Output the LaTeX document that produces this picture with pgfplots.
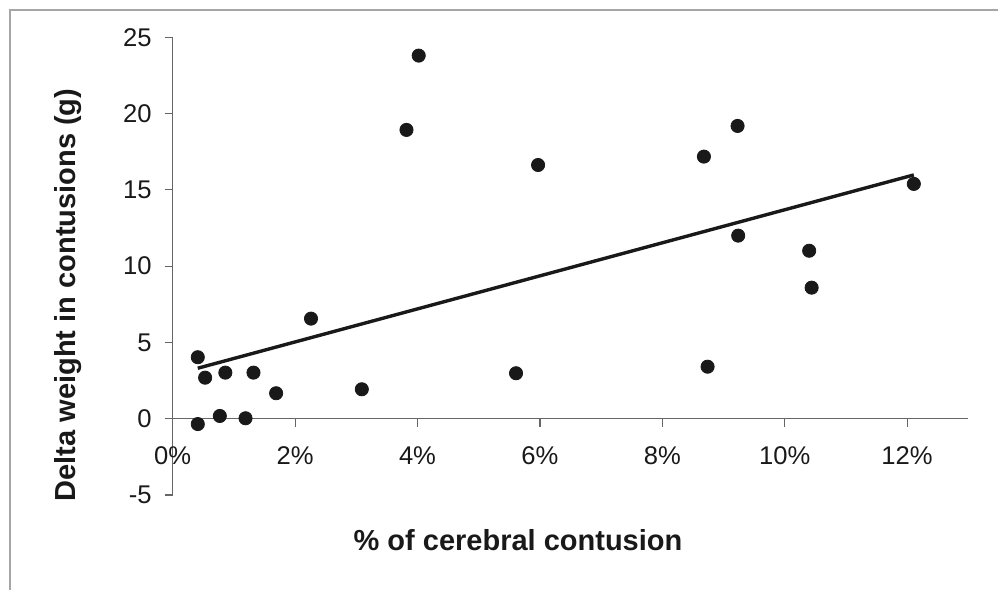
\documentclass[border=0pt]{standalone}
\usepackage{pgfplots}
\pgfplotsset{compat=1.18}
\usepackage{fontspec}
\setmainfont{Liberation Sans}
\begin{document}
\begin{tikzpicture}
\useasboundingbox (0,0) rectangle (499pt,295pt);
\draw[black!35, line width=0.6pt] (5pt,0pt) -- (5pt,290pt) -- (499pt,290pt);
\begin{axis}[
  at={(86.35pt,47.5pt)}, anchor=south west,
  scale only axis, width=397.8pt, height=228.85pt,
  xmin=0, xmax=13, ymin=-5, ymax=25,
  axis x line*=middle, axis y line*=left,
  hide obscured x ticks=false,
  axis line style={black!60, line width=0.6pt},
  every tick/.style={black!60, line width=0.6pt},
  tick align=outside, major tick length=4pt,
  xtick={0,2,4,6,8,10,12},
  xticklabels={0\%,2\%,4\%,6\%,8\%,10\%,12\%},
  ytick={-5,0,5,10,15,20,25},
  yticklabels={-5,0,5,10,15,20,25},
  /pgf/number format/assume math mode=true,
  tick label style={font=\fontsize{12.8}{14}\selectfont, text=black!90},
  xticklabel style={yshift=-6.5pt},
  yticklabel style={xshift=-3pt},
  xlabel={\textbf{\% of cerebral contusion}},
  ylabel={\textbf{Delta weight in contusions (g)}},
  label style={font=\fontsize{14.5}{16}\selectfont, text=black!90},
  xlabel style={at={(axis description cs:0.434,-0.098)}, anchor=center},
  ylabel style={at={(axis description cs:-0.1316,0.437)}, anchor=center, rotate=0},
  clip=false,
]
\addplot[only marks, mark=*, mark size=3.3pt, mark options={fill=black!90, draw=black!90}] coordinates {
(4.02,23.80) (3.82,18.93) (0.41,4.03) (0.53,2.69) (0.86,3.02) (1.32,3.02)
(1.69,1.67) (2.26,6.56) (3.09,1.93) (0.41,-0.35) (0.77,0.18) (1.19,0.03)
(5.97,16.63) (8.68,17.18) (9.23,19.19) (12.11,15.39) (9.24,12.00)
(10.40,11.01) (5.61,2.98) (8.74,3.41) (10.44,8.59)
};
\addplot[black!90, line width=1.7pt] coordinates {(0.41,3.31) (12.11,15.98)};
\end{axis}
\end{tikzpicture}
\end{document}
